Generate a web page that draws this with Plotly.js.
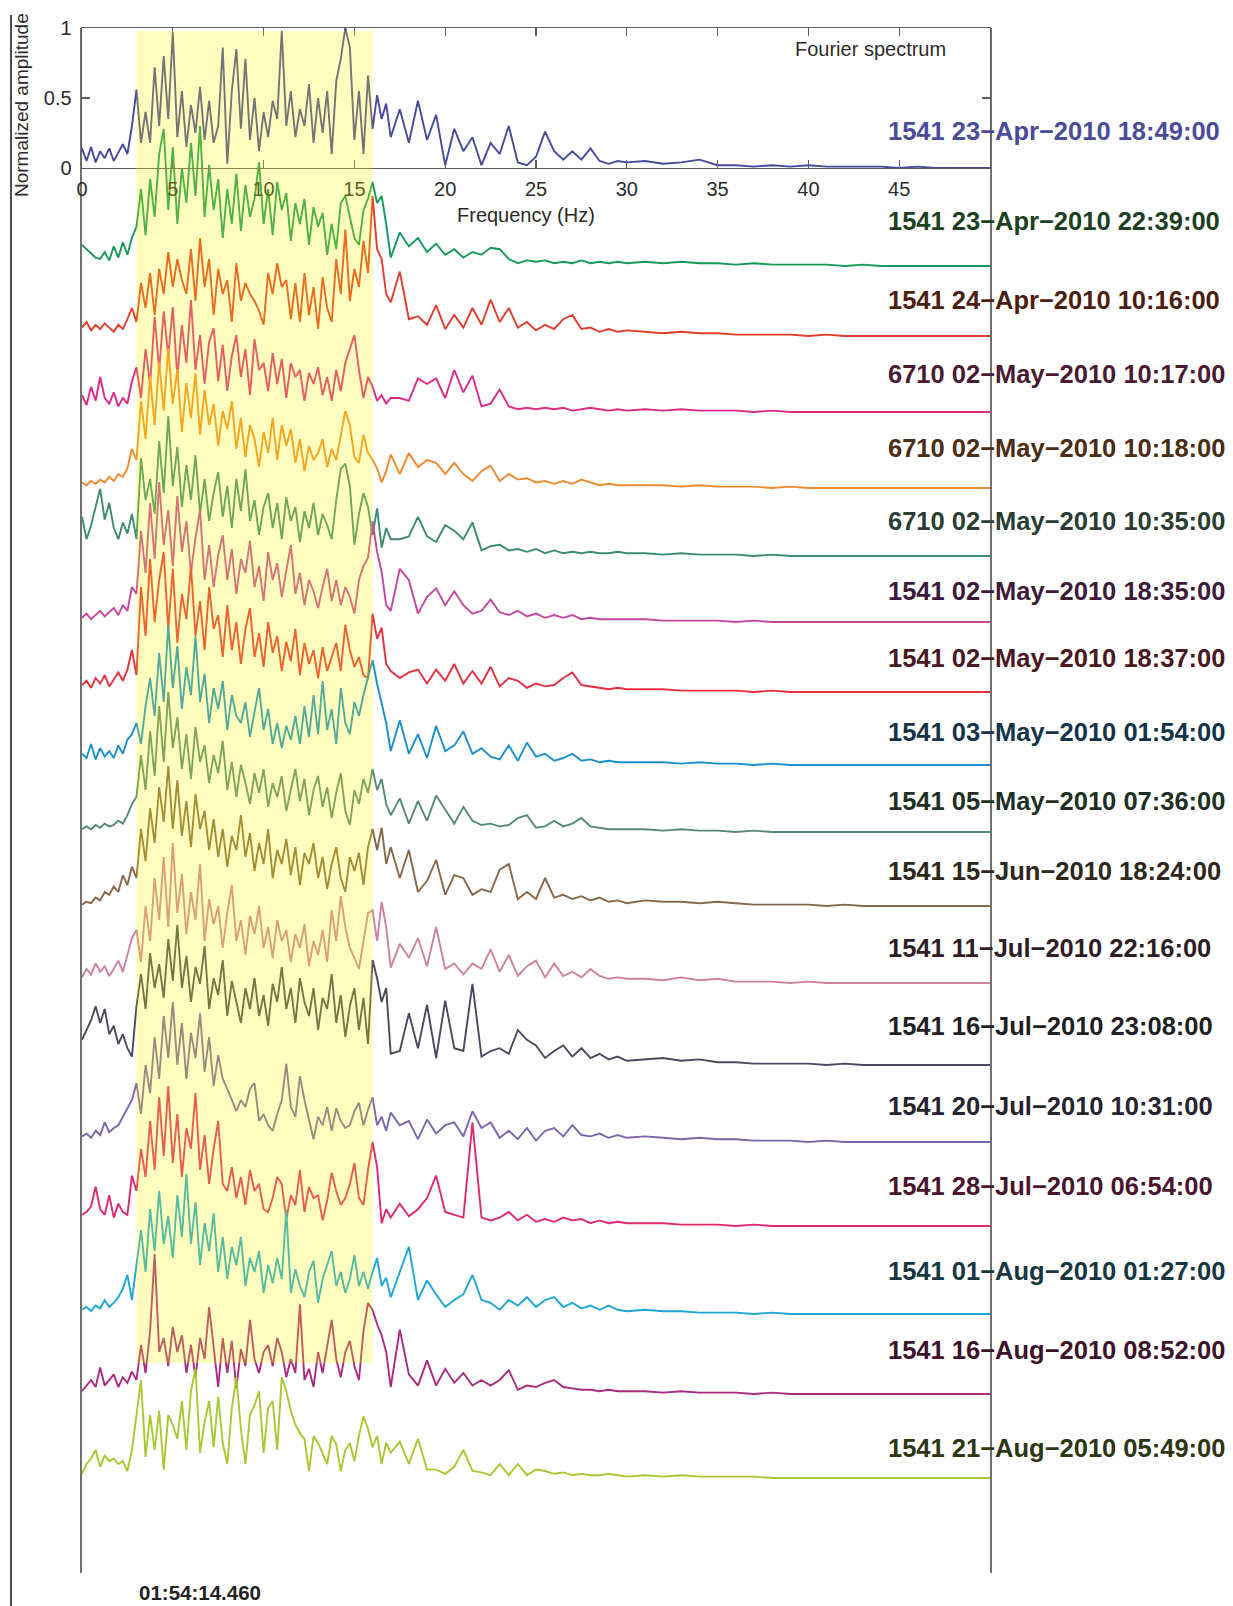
<!DOCTYPE html>
<html>
<head>
<meta charset="utf-8">
<script src="https://cdn.plot.ly/plotly-3.0.1.min.js"></script>
<style>
  html, body { margin: 0; padding: 0; background: #ffffff; }
  #chart { width: 1233px; height: 1606px; }
</style>
</head>
<body>
<div id="chart"></div>
<script>
// Frequency grid (Hz) shared by every spectrum
const freqHz = [
  0,0.25,0.5,0.75,1,1.25,1.5,1.75,2,2.25,2.5,2.75,
  3,3.25,3.5,3.75,4,4.25,4.5,4.75,5,5.25,5.5,5.75,6,6.25,6.5,6.75,7,7.25,7.5,7.75,8,8.25,8.5,8.75,
  9,9.25,9.5,9.75,10,10.25,10.5,10.75,11,11.25,11.5,11.75,12,12.25,12.5,12.75,13,13.25,13.5,13.75,
  14,14.25,14.5,14.75,15,15.25,15.5,15.75,16,16.25,16.5,16.75,17,
  17.5,18,18.5,19,19.5,20,20.5,21,21.5,22,22.5,23,23.5,24,24.5,25,25.5,26,26.5,27,27.5,28,28.5,29,29.5,30,
  31,32,33,34,35,36,37,38,39,40,41,42,43,44,45,46,47,48,49,50
];

// Normalized Fourier amplitude of each recorded event
const amp_1541_0423_1849 = [
  0.14,0.05,0.15,0.04,0.12,0.07,0.14,0.05,0.11,0.17,0.10,0.30,
  0.56,0.18,0.40,0.18,0.72,0.30,0.80,0.35,0.97,0.22,0.55,0.15,0.45,0.25,0.58,0.20,0.48,0.18,0.30,0.86,0.03,0.55,0.85,0.28,0.78,0.20,0.50,0.12,0.40,0.22,0.48,0.35,0.98,0.30,0.55,0.22,0.42,0.30,0.60,0.18,0.50,0.25,0.55,0.10,0.62,0.78,1.00,0.86,0.20,0.55,0.10,0.66,0.28,0.52,0.35,0.46,0.22,
  0.42,0.18,0.48,0.20,0.38,0.02,0.28,0.12,0.22,0.02,0.18,0.10,0.30,0.04,0.02,0.08,0.26,0.12,0.06,0.12,0.06,0.14,0.05,0.03,0.05,0.04,
  0.05,0.03,0.04,0.06,0.02,0.02,0.01,0.02,0.01,0.02,0.01,0.01,0.01,0.01,0.00,0.01,0.00,0.00,0.00,0.00
];
const amp_1541_0423_2239 = [
  0.15,0.12,0.09,0.06,0.05,0.10,0.04,0.14,0.06,0.17,0.08,0.20,
  0.28,0.55,0.22,0.62,0.35,0.80,0.98,0.40,0.85,0.30,0.70,0.45,0.88,0.50,1.00,0.35,0.72,0.40,0.62,0.20,0.55,0.30,0.66,0.25,0.58,0.35,0.48,0.74,0.30,0.55,0.22,0.60,0.40,0.52,0.18,0.45,0.30,0.48,0.15,0.42,0.28,0.38,0.08,0.30,0.12,0.45,0.50,0.35,0.20,0.15,0.40,0.48,0.60,0.45,0.50,0.30,0.06,
  0.24,0.14,0.20,0.10,0.16,0.08,0.12,0.06,0.10,0.08,0.13,0.12,0.05,0.02,0.04,0.03,0.04,0.02,0.03,0.02,0.04,0.02,0.03,0.02,0.03,0.02,
  0.03,0.02,0.03,0.02,0.02,0.01,0.02,0.01,0.01,0.01,0.01,0.00,0.01,0.00,0.00,0.00,0.00,0.00,0.00,0.00
];
const amp_1541_0424_1016 = [
  0.06,0.10,0.04,0.08,0.05,0.09,0.06,0.03,0.08,0.05,0.12,0.20,
  0.10,0.38,0.20,0.45,0.15,0.48,0.30,0.60,0.35,0.55,0.40,0.30,0.62,0.25,0.70,0.35,0.55,0.15,0.48,0.30,0.40,0.10,0.52,0.25,0.38,0.30,0.25,0.18,0.08,0.45,0.30,0.52,0.35,0.40,0.12,0.38,0.10,0.45,0.15,0.35,0.05,0.42,0.20,0.10,0.55,0.30,0.76,0.25,0.48,0.35,0.68,0.45,1.00,0.62,0.55,0.30,0.24,
  0.46,0.12,0.14,0.08,0.22,0.05,0.15,0.06,0.20,0.08,0.26,0.10,0.20,0.06,0.10,0.04,0.08,0.05,0.12,0.15,0.05,0.06,0.03,0.05,0.03,0.04,
  0.03,0.02,0.03,0.02,0.02,0.01,0.01,0.01,0.01,0.00,0.01,0.00,0.00,0.00,0.00,0.00,0.00,0.00,0.00,0.00
];
const amp_6710_0502_1017 = [
  0.12,0.05,0.18,0.08,0.25,0.10,0.06,0.14,0.04,0.10,0.06,0.22,
  0.32,0.10,0.45,0.20,0.68,0.30,0.72,0.40,0.75,0.25,0.62,0.35,0.80,0.30,0.55,0.20,0.50,0.60,0.22,0.48,0.15,0.40,0.55,0.25,0.45,0.12,0.52,0.30,0.35,0.15,0.42,0.20,0.38,0.10,0.35,0.25,0.30,0.08,0.28,0.20,0.32,0.12,0.25,0.08,0.30,0.15,0.35,0.45,0.55,0.30,0.10,0.25,0.18,0.08,0.12,0.06,0.10,
  0.10,0.08,0.24,0.20,0.24,0.10,0.30,0.14,0.26,0.04,0.06,0.16,0.04,0.02,0.03,0.02,0.03,0.02,0.03,0.01,0.02,0.03,0.02,0.01,0.02,0.01,
  0.02,0.01,0.02,0.01,0.01,0.01,0.00,0.01,0.00,0.00,0.00,0.00,0.00,0.00,0.00,0.00,0.00,0.00,0.00,0.00
];
const amp_6710_0502_1018 = [
  0.04,0.02,0.05,0.03,0.06,0.04,0.08,0.05,0.10,0.08,0.14,0.28,
  0.20,0.62,0.35,0.80,0.45,0.90,0.55,1.00,0.60,0.85,0.40,0.75,0.50,0.82,0.38,0.70,0.45,0.60,0.30,0.55,0.42,0.62,0.28,0.50,0.22,0.45,0.35,0.15,0.40,0.25,0.50,0.20,0.45,0.30,0.42,0.18,0.35,0.12,0.30,0.20,0.25,0.35,0.15,0.28,0.20,0.38,0.55,0.45,0.22,0.18,0.38,0.25,0.20,0.14,0.04,0.12,0.24,
  0.10,0.25,0.15,0.20,0.18,0.10,0.18,0.10,0.05,0.12,0.16,0.05,0.10,0.06,0.07,0.04,0.05,0.03,0.05,0.03,0.06,0.04,0.02,0.03,0.02,0.02,
  0.02,0.02,0.01,0.02,0.01,0.01,0.01,0.00,0.01,0.00,0.00,0.00,0.00,0.00,0.00,0.00,0.00,0.00,0.00,0.00
];
const amp_6710_0502_1035 = [
  0.28,0.12,0.22,0.36,0.48,0.26,0.38,0.20,0.12,0.24,0.16,0.30,
  0.12,0.70,0.40,0.55,0.30,0.82,0.45,1.00,0.50,0.78,0.35,0.65,0.40,0.72,0.30,0.55,0.25,0.45,0.60,0.28,0.50,0.20,0.55,0.32,0.62,0.25,0.40,0.15,0.35,0.45,0.20,0.38,0.12,0.42,0.25,0.35,0.10,0.32,0.20,0.38,0.15,0.30,0.22,0.12,0.40,0.62,0.66,0.50,0.08,0.30,0.45,0.35,0.15,0.34,0.06,0.20,0.12,
  0.12,0.14,0.28,0.14,0.10,0.22,0.18,0.12,0.24,0.04,0.07,0.08,0.04,0.05,0.03,0.05,0.02,0.04,0.02,0.03,0.02,0.03,0.02,0.02,0.03,0.02,
  0.02,0.01,0.02,0.01,0.01,0.01,0.00,0.01,0.00,0.00,0.00,0.00,0.00,0.00,0.00,0.00,0.00,0.00,0.00,0.00
];
const amp_1541_0502_1835 = [
  0.03,0.06,0.02,0.05,0.08,0.04,0.07,0.10,0.05,0.12,0.08,0.25,
  0.20,0.65,0.35,0.85,0.45,1.00,0.55,0.80,0.40,0.90,0.50,0.72,0.35,0.60,0.80,0.30,0.55,0.25,0.48,0.62,0.30,0.52,0.20,0.45,0.35,0.58,0.25,0.40,0.15,0.50,0.30,0.42,0.18,0.38,0.55,0.20,0.35,0.12,0.30,0.22,0.10,0.25,0.38,0.15,0.30,0.12,0.25,0.18,0.06,0.30,0.40,0.46,0.72,0.50,0.36,0.12,0.08,
  0.38,0.30,0.06,0.18,0.24,0.12,0.22,0.12,0.06,0.08,0.16,0.07,0.05,0.08,0.04,0.06,0.03,0.05,0.03,0.05,0.02,0.03,0.02,0.02,0.02,0.02,
  0.02,0.01,0.01,0.01,0.01,0.00,0.01,0.00,0.00,0.00,0.00,0.00,0.00,0.00,0.00,0.00,0.00,0.00,0.00,0.00
];
const amp_1541_0502_1837 = [
  0.05,0.08,0.03,0.10,0.06,0.12,0.04,0.09,0.14,0.08,0.16,0.30,
  0.12,0.75,0.40,0.95,0.50,0.80,1.00,0.45,0.88,0.35,0.70,0.52,0.90,0.40,0.65,0.30,0.75,0.45,0.55,0.25,0.62,0.30,0.50,0.20,0.45,0.60,0.25,0.42,0.18,0.50,0.28,0.40,0.15,0.36,0.22,0.45,0.12,0.35,0.20,0.30,0.10,0.32,0.15,0.25,0.35,0.15,0.48,0.30,0.18,0.25,0.12,0.10,0.56,0.38,0.46,0.20,0.15,
  0.10,0.14,0.16,0.06,0.16,0.08,0.20,0.06,0.15,0.06,0.18,0.04,0.10,0.08,0.03,0.06,0.04,0.05,0.10,0.14,0.05,0.04,0.03,0.02,0.03,0.02,
  0.02,0.02,0.01,0.01,0.01,0.01,0.00,0.01,0.00,0.00,0.00,0.00,0.00,0.00,0.00,0.00,0.00,0.00,0.00,0.00
];
const amp_1541_0503_0154 = [
  0.08,0.05,0.15,0.04,0.12,0.06,0.10,0.05,0.14,0.08,0.18,0.22,
  0.30,0.15,0.42,0.62,0.35,0.80,0.45,1.00,0.55,0.85,0.40,0.70,0.50,0.92,0.45,0.65,0.30,0.55,0.40,0.60,0.25,0.50,0.35,0.30,0.45,0.20,0.38,0.55,0.25,0.40,0.15,0.30,0.12,0.28,0.18,0.35,0.15,0.42,0.20,0.50,0.22,0.60,0.25,0.40,0.15,0.55,0.30,0.22,0.45,0.35,0.50,0.62,0.75,0.58,0.44,0.30,0.10,
  0.32,0.08,0.22,0.05,0.28,0.10,0.14,0.24,0.08,0.12,0.06,0.04,0.14,0.03,0.16,0.06,0.08,0.03,0.05,0.08,0.03,0.04,0.02,0.03,0.02,0.02,
  0.02,0.02,0.01,0.02,0.01,0.01,0.00,0.01,0.00,0.00,0.00,0.00,0.00,0.00,0.00,0.00,0.00,0.00,0.00,0.00
];
const amp_1541_0505_0736 = [
  0.02,0.04,0.02,0.05,0.03,0.06,0.04,0.05,0.08,0.06,0.12,0.20,
  0.25,0.55,0.30,0.72,0.40,0.90,0.50,1.00,0.60,0.82,0.45,0.70,0.38,0.75,0.50,0.62,0.35,0.55,0.42,0.65,0.30,0.50,0.25,0.48,0.35,0.20,0.42,0.28,0.45,0.18,0.35,0.25,0.40,0.15,0.30,0.45,0.22,0.38,0.12,0.30,0.40,0.18,0.32,0.10,0.28,0.42,0.15,0.05,0.30,0.20,0.38,0.28,0.45,0.30,0.38,0.20,0.12,
  0.24,0.06,0.22,0.08,0.26,0.16,0.06,0.18,0.08,0.05,0.06,0.04,0.05,0.10,0.12,0.03,0.04,0.08,0.04,0.06,0.10,0.04,0.03,0.02,0.02,0.02,
  0.02,0.01,0.02,0.01,0.01,0.00,0.01,0.00,0.00,0.00,0.00,0.00,0.00,0.00,0.00,0.00,0.00,0.00,0.00,0.00
];
const amp_1541_0615_1824 = [
  0.01,0.03,0.02,0.06,0.04,0.10,0.08,0.14,0.10,0.22,0.15,0.28,
  0.20,0.55,0.32,0.70,0.45,0.85,0.60,1.00,0.55,0.90,0.50,0.75,0.42,0.80,0.55,0.68,0.40,0.62,0.35,0.55,0.28,0.50,0.40,0.65,0.35,0.52,0.25,0.45,0.30,0.55,0.20,0.40,0.30,0.48,0.22,0.42,0.15,0.38,0.30,0.45,0.20,0.35,0.12,0.30,0.42,0.20,0.10,0.35,0.25,0.38,0.15,0.42,0.55,0.40,0.56,0.30,0.42,
  0.20,0.40,0.10,0.18,0.33,0.08,0.22,0.20,0.08,0.12,0.10,0.26,0.30,0.05,0.10,0.05,0.20,0.06,0.08,0.05,0.07,0.04,0.06,0.03,0.04,0.02,
  0.04,0.03,0.03,0.02,0.03,0.02,0.01,0.01,0.01,0.01,0.00,0.01,0.00,0.00,0.00,0.00,0.00,0.00,0.00,0.00
];
const amp_1541_0711_2216 = [
  0.04,0.10,0.06,0.14,0.08,0.12,0.05,0.10,0.16,0.08,0.20,0.32,
  0.38,0.15,0.55,0.30,0.75,0.45,0.90,0.40,1.00,0.50,0.78,0.35,0.65,0.45,0.85,0.30,0.60,0.42,0.55,0.25,0.50,0.70,0.30,0.45,0.20,0.48,0.35,0.55,0.25,0.40,0.18,0.45,0.30,0.38,0.15,0.35,0.25,0.42,0.12,0.30,0.20,0.38,0.15,0.52,0.30,0.62,0.40,0.25,0.18,0.10,0.30,0.50,0.52,0.30,0.58,0.40,0.11,
  0.28,0.18,0.32,0.12,0.40,0.10,0.14,0.06,0.14,0.10,0.24,0.08,0.20,0.05,0.12,0.16,0.04,0.14,0.05,0.08,0.04,0.10,0.05,0.03,0.04,0.03,
  0.03,0.02,0.04,0.02,0.03,0.01,0.01,0.01,0.00,0.01,0.00,0.00,0.00,0.00,0.00,0.00,0.00,0.00,0.00,0.00
];
const amp_1541_0716_2308 = [
  0.18,0.25,0.32,0.42,0.30,0.40,0.22,0.28,0.15,0.22,0.12,0.06,
  0.42,0.65,0.40,0.80,0.55,0.72,0.48,0.90,0.60,1.00,0.55,0.78,0.45,0.70,0.58,0.85,0.40,0.62,0.50,0.75,0.35,0.60,0.45,0.30,0.55,0.40,0.62,0.35,0.50,0.28,0.58,0.45,0.70,0.40,0.55,0.30,0.62,0.45,0.35,0.55,0.25,0.48,0.40,0.65,0.30,0.50,0.20,0.42,0.55,0.25,0.48,0.15,0.75,0.62,0.45,0.55,0.08,
  0.10,0.37,0.12,0.43,0.05,0.46,0.12,0.10,0.58,0.06,0.10,0.12,0.08,0.25,0.18,0.14,0.05,0.10,0.14,0.06,0.12,0.05,0.08,0.04,0.06,0.03,
  0.04,0.05,0.03,0.04,0.02,0.02,0.01,0.01,0.01,0.01,0.00,0.01,0.00,0.00,0.00,0.00,0.00,0.00,0.00,0.00
];
const amp_1541_0720_1031 = [
  0.04,0.06,0.03,0.08,0.05,0.14,0.07,0.10,0.12,0.18,0.24,0.30,
  0.42,0.20,0.55,0.35,0.75,0.45,0.90,0.60,1.00,0.55,0.85,0.45,0.78,0.60,0.92,0.50,0.75,0.40,0.62,0.45,0.38,0.30,0.22,0.30,0.25,0.38,0.42,0.15,0.20,0.12,0.08,0.20,0.30,0.56,0.25,0.18,0.47,0.30,0.15,0.02,0.18,0.12,0.25,0.08,0.24,0.15,0.10,0.12,0.22,0.28,0.12,0.23,0.32,0.12,0.18,0.08,0.21,
  0.12,0.15,0.02,0.16,0.06,0.12,0.14,0.04,0.22,0.10,0.14,0.03,0.08,0.02,0.10,0.01,0.08,0.10,0.04,0.12,0.05,0.04,0.06,0.03,0.05,0.03,
  0.04,0.03,0.02,0.03,0.02,0.02,0.01,0.01,0.01,0.00,0.01,0.00,0.00,0.00,0.00,0.00,0.00,0.00,0.00,0.00
];
const amp_1541_0728_0654 = [
  0.08,0.10,0.14,0.28,0.12,0.08,0.22,0.06,0.16,0.10,0.08,0.36,
  0.25,0.55,0.35,0.75,0.40,0.92,0.50,1.00,0.45,0.80,0.35,0.70,0.55,0.95,0.40,0.65,0.30,0.55,0.75,0.30,0.25,0.42,0.20,0.35,0.15,0.40,0.25,0.30,0.12,0.10,0.20,0.35,0.30,0.05,0.22,0.15,0.40,0.10,0.28,0.20,0.22,0.04,0.18,0.38,0.25,0.15,0.20,0.30,0.45,0.20,0.15,0.40,0.60,0.42,0.02,0.12,0.06,
  0.16,0.07,0.12,0.20,0.36,0.10,0.08,0.06,0.74,0.06,0.04,0.06,0.10,0.04,0.08,0.03,0.05,0.03,0.06,0.04,0.05,0.02,0.04,0.02,0.03,0.02,
  0.02,0.02,0.01,0.01,0.01,0.00,0.01,0.00,0.00,0.00,0.00,0.00,0.00,0.00,0.00,0.00,0.00,0.00,0.00,0.00
];
const amp_1541_0801_0127 = [
  0.03,0.05,0.02,0.06,0.04,0.10,0.05,0.08,0.12,0.18,0.28,0.10,
  0.35,0.60,0.30,0.75,0.45,0.88,0.50,0.70,0.40,0.85,0.55,1.00,0.50,0.80,0.35,0.65,0.45,0.72,0.30,0.55,0.25,0.48,0.35,0.55,0.20,0.40,0.30,0.45,0.15,0.35,0.22,0.40,0.25,0.74,0.15,0.32,0.20,0.12,0.30,0.38,0.08,0.25,0.35,0.45,0.20,0.30,0.15,0.25,0.42,0.20,0.30,0.18,0.30,0.40,0.20,0.26,0.12,
  0.30,0.48,0.10,0.24,0.14,0.05,0.10,0.14,0.28,0.10,0.08,0.03,0.10,0.06,0.12,0.05,0.10,0.12,0.05,0.08,0.04,0.06,0.03,0.06,0.03,0.02,
  0.03,0.02,0.02,0.01,0.01,0.01,0.00,0.01,0.00,0.00,0.00,0.00,0.00,0.00,0.00,0.00,0.00,0.00,0.00,0.00
];
const amp_1541_0816_0852 = [
  0.02,0.06,0.10,0.05,0.19,0.06,0.10,0.14,0.05,0.12,0.08,0.16,
  0.10,0.35,0.15,0.45,1.00,0.30,0.40,0.20,0.48,0.30,0.42,0.15,0.35,0.12,0.40,0.25,0.62,0.35,0.05,0.40,0.15,0.38,0.04,0.32,0.20,0.53,0.25,0.15,0.30,0.35,0.20,0.40,0.30,0.12,0.25,0.15,0.64,0.10,0.18,0.05,0.30,0.15,0.35,0.53,0.25,0.12,0.30,0.38,0.20,0.10,0.45,0.65,0.60,0.50,0.42,0.30,0.05,
  0.46,0.14,0.06,0.24,0.06,0.18,0.08,0.15,0.06,0.10,0.06,0.10,0.17,0.03,0.06,0.05,0.08,0.10,0.05,0.04,0.03,0.03,0.02,0.03,0.02,0.02,
  0.02,0.01,0.02,0.01,0.01,0.01,0.00,0.01,0.00,0.00,0.00,0.00,0.00,0.00,0.00,0.00,0.00,0.00,0.00,0.00
];
const amp_1541_0821_0549 = [
  0.03,0.10,0.14,0.20,0.08,0.16,0.12,0.14,0.10,0.12,0.05,0.20,
  0.45,0.70,0.15,0.45,0.20,0.48,0.06,0.45,0.38,0.28,0.55,0.20,0.62,0.78,0.18,0.40,0.55,0.22,0.58,0.25,0.10,0.50,0.72,0.35,0.10,0.45,0.52,0.62,0.18,0.50,0.55,0.20,0.72,0.62,0.48,0.38,0.32,0.28,0.05,0.30,0.25,0.18,0.10,0.30,0.24,0.05,0.20,0.25,0.12,0.30,0.44,0.35,0.22,0.30,0.10,0.25,0.18,
  0.26,0.10,0.28,0.06,0.06,0.03,0.08,0.20,0.05,0.04,0.02,0.10,0.02,0.10,0.02,0.06,0.05,0.03,0.04,0.02,0.03,0.02,0.02,0.03,0.02,0.01,
  0.02,0.01,0.02,0.01,0.01,0.01,0.01,0.00,0.00,0.00,0.00,0.00,0.00,0.00,0.00,0.00,0.00,0.00,0.00,0.00
];

// Station and origin time of each event, top to bottom
const eventLabels = [
  '1541 23−Apr−2010 18:49:00', '1541 23−Apr−2010 22:39:00', '1541 24−Apr−2010 10:16:00',
  '6710 02−May−2010 10:17:00', '6710 02−May−2010 10:18:00', '6710 02−May−2010 10:35:00',
  '1541 02−May−2010 18:35:00', '1541 02−May−2010 18:37:00', '1541 03−May−2010 01:54:00',
  '1541 05−May−2010 07:36:00', '1541 15−Jun−2010 18:24:00', '1541 11−Jul−2010 22:16:00',
  '1541 16−Jul−2010 23:08:00', '1541 20−Jul−2010 10:31:00', '1541 28−Jul−2010 06:54:00',
  '1541 01−Aug−2010 01:27:00', '1541 16−Aug−2010 08:52:00', '1541 21−Aug−2010 05:49:00'
];
const spectra = [
  amp_1541_0423_1849, amp_1541_0423_2239, amp_1541_0424_1016,
  amp_6710_0502_1017, amp_6710_0502_1018, amp_6710_0502_1035,
  amp_1541_0502_1835, amp_1541_0502_1837, amp_1541_0503_0154,
  amp_1541_0505_0736, amp_1541_0615_1824, amp_1541_0711_2216,
  amp_1541_0716_2308, amp_1541_0720_1031, amp_1541_0728_0654,
  amp_1541_0801_0127, amp_1541_0816_0852, amp_1541_0821_0549
];
const bandLimitsHz = [3, 16];
const freqTicks = [0, 5, 10, 15, 20, 25, 30, 35, 40, 45];
const ampTicks = [0, 0.5, 1];

// Styling
const lineColors = [
  '#48489c', '#17995a', '#e23c2c', '#dc2a86', '#f08a2e', '#3e8c6e',
  '#c4479e', '#e63040', '#1a8fcc', '#568a72', '#86694a', '#cc82a0',
  '#4b4a5c', '#7a66aa', '#e0286e', '#1ea6d6', '#aa2a80', '#a8c832'
];
const labelColors = [
  '#4b4b9b', '#1c3f22', '#4d1d12', '#4a1a33', '#4a2d14', '#2a3d33',
  '#3d1a3a', '#4a1722', '#14334a', '#1e3024', '#2e261a', '#2e1d24',
  '#1e1e24', '#26232e', '#4a1430', '#16363f', '#3d122b', '#2e3512'
];

// Page geometry, in pixels
const W = 1233, H = 1606;
const plotL = 82, plotR = 990, plotT = 28, plotB = 1573;
const zeroLinePx = 168;          // zero line of the top panel
const pxPerUnit = 140;           // one unit of normalized amplitude
const baselinePx = [168, 266, 336, 412, 488, 556, 622, 692, 765, 832, 906, 983, 1065, 1142, 1226, 1314, 1394, 1478];
const labelPx = [131, 221, 300, 374, 448, 521, 591, 658, 732, 801, 871, 948, 1026, 1106, 1186, 1271, 1350, 1448];

const paperY = px => (plotB - px) / (plotB - plotT);
const paperX = px => (px - plotL) / (plotR - plotL);
const yTop = (zeroLinePx - plotT) / pxPerUnit;
const yBottom = -(plotB - zeroLinePx) / pxPerUnit;

const FONT = 'Liberation Sans, Arial, Helvetica, sans-serif';
const LINE_W = 1.9;

// First spectrum sits in the framed top panel, the rest are stacked below it
const traces = spectra.map((amp, i) => {
  if (i === 0) {
    return {
      type: 'scatter', mode: 'lines', x: freqHz, y: amp,
      xaxis: 'x2', yaxis: 'y2',
      line: { color: lineColors[i], width: LINE_W },
      hoverinfo: 'skip', showlegend: false
    };
  }
  const offset = (zeroLinePx - baselinePx[i]) / pxPerUnit;
  return {
    type: 'scatter', mode: 'lines',
    x: freqHz,
    y: amp.map(v => v + offset),
    xaxis: 'x', yaxis: 'y',
    line: { color: lineColors[i], width: LINE_W },
    hoverinfo: 'skip', showlegend: false
  };
});

const annotations = eventLabels.map((txt, i) => ({
  xref: 'paper', yref: 'paper',
  x: paperX(886), y: paperY(labelPx[i]),
  xanchor: 'left', yanchor: 'middle',
  text: '<b>' + txt + '</b>', showarrow: false,
  font: { family: FONT, size: 25.5, color: labelColors[i] }
}));
annotations.push(
  { xref: 'paper', yref: 'paper', x: paperX(870), y: paperY(49), xanchor: 'center', yanchor: 'middle',
    text: 'Fourier spectrum', showarrow: false, font: { family: FONT, size: 20, color: '#2b2b2b' } },
  { xref: 'paper', yref: 'paper', x: paperX(526), y: paperY(215), xanchor: 'center', yanchor: 'middle',
    text: 'Frequency (Hz)', showarrow: false, font: { family: FONT, size: 20, color: '#2b2b2b' } },
  { xref: 'paper', yref: 'paper', x: paperX(22), y: paperY(105), xanchor: 'center', yanchor: 'middle',
    text: 'Normalized amplitude', textangle: -90, showarrow: false, font: { family: FONT, size: 19, color: '#2b2b2b' } },
  { xref: 'paper', yref: 'paper', x: paperX(200), y: paperY(1592), xanchor: 'center', yanchor: 'middle',
    text: '<b>01:54:14.460</b>', showarrow: false, font: { family: FONT, size: 20.5, color: '#222222' } }
);

const axisGray = '#5e5e5e';
const tickFont = { family: FONT, size: 20, color: '#2b2b2b' };

const layout = {
  width: W, height: H, autosize: false,
  margin: { l: plotL, r: W - plotR, t: plotT, b: H - plotB, pad: 0 },
  paper_bgcolor: '#ffffff', plot_bgcolor: 'rgba(0,0,0,0)',
  showlegend: false,
  xaxis: { domain: [0, 1], range: [0, 50], visible: false, fixedrange: true },
  yaxis: {
    domain: [0, 1], range: [yBottom, yTop],
    showline: true, mirror: true, linecolor: '#707070', linewidth: 1.6,
    ticks: '', showticklabels: false, showgrid: false, zeroline: false, fixedrange: true
  },
  xaxis2: {
    anchor: 'y2', domain: [0, 1], range: [0, 50],
    showline: true, mirror: 'ticks', linecolor: axisGray, linewidth: 1.4,
    ticks: 'inside', ticklen: 8, tickwidth: 1.2, tickcolor: axisGray,
    tickvals: freqTicks, ticktext: freqTicks.map(String),
    tickfont: tickFont, ticklabelstandoff: 3,
    showgrid: false, zeroline: false, fixedrange: true
  },
  yaxis2: {
    anchor: 'x2', domain: [paperY(zeroLinePx), 1], range: [0, 1],
    showline: true, mirror: 'ticks', linecolor: axisGray, linewidth: 1.4,
    ticks: 'inside', ticklen: 8, tickwidth: 1.2, tickcolor: axisGray,
    tickvals: ampTicks, ticktext: ['0', '0.5', '1'],
    tickfont: tickFont, ticklabelstandoff: 5,
    showgrid: false, zeroline: false, fixedrange: true
  },
  shapes: [
    { type: 'rect', xref: 'x', yref: 'paper',
      x0: bandLimitsHz[0], x1: bandLimitsHz[1], y0: paperY(1363), y1: paperY(31),
      fillcolor: 'rgba(255,252,0,0.25)', line: { width: 0 }, layer: 'above' },
    { type: 'line', xref: 'paper', yref: 'paper',
      x0: paperX(11), x1: paperX(11), y0: paperY(H), y1: paperY(15),
      line: { color: '#111111', width: 1.5 } }
  ],
  annotations: annotations
};

Plotly.newPlot('chart', traces, layout, { staticPlot: true, displayModeBar: false });
</script>
</body>
</html>
